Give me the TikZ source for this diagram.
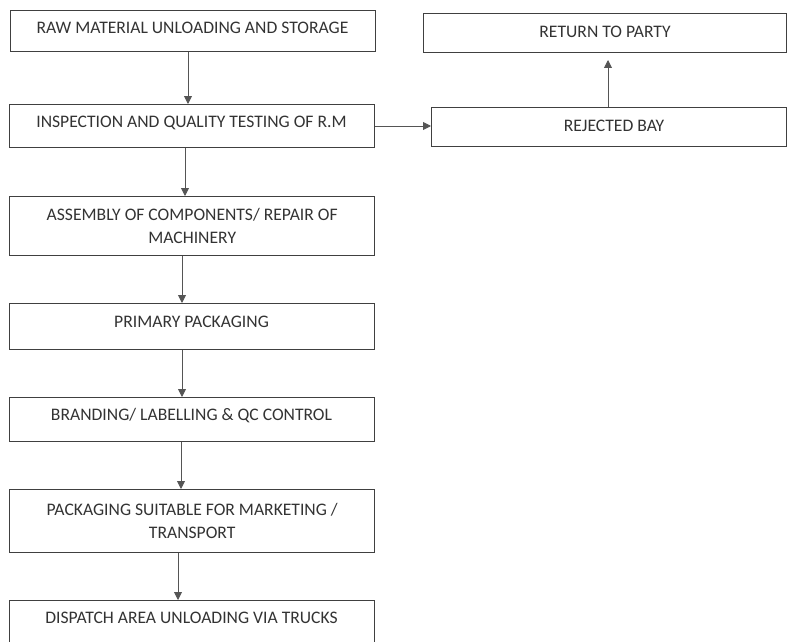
\documentclass[tikz,border=0pt]{standalone}
\usepackage{fontspec}
\setmainfont{Carlito}
\usetikzlibrary{arrows.meta}
\definecolor{ink}{HTML}{333333}
\definecolor{edge}{HTML}{404040}
\definecolor{arrc}{HTML}{555555}
\tikzset{
  box/.style={draw=edge, line width=1.4pt, rectangle, inner sep=0pt, anchor=north west},
  boxtext/.style={text=ink, font=\fontsize{17.6}{23}\selectfont, align=center, inner sep=0pt},
  onetext/.style={boxtext, text height=11.3pt, text depth=0pt},
  arr/.style={draw=arrc, line width=0.9pt, -{Triangle[width=8pt,length=8pt]}, color=arrc}
}
\begin{document}
\begin{tikzpicture}[x=1pt,y=-1pt]
\useasboundingbox (0,0) rectangle (787,642);
% left column boxes
\node[box, minimum width=365pt, minimum height=41pt] (b1) at (10,10) {};
\node[onetext] (t1) at (192.5,28) {RAW MATERIAL UNLOADING AND STORAGE};
\node[box, minimum width=365pt, minimum height=43pt] (b2) at (9,104) {};
\node[onetext] (t2) at (191.5,122) {INSPECTION AND QUALITY TESTING OF R.M};
\node[box, minimum width=365pt, minimum height=59pt] (b3) at (9,196) {};
\node[boxtext] (t3) at (b3.center) {ASSEMBLY OF COMPONENTS/ REPAIR OF\\MACHINERY};
\node[box, minimum width=365pt, minimum height=46pt] (b4) at (9,303) {};
\node[onetext] (t4) at (191.5,322) {PRIMARY PACKAGING};
\node[box, minimum width=365pt, minimum height=44pt] (b5) at (9,397) {};
\node[onetext] (t5) at (191.5,415) {BRANDING/ LABELLING \& QC CONTROL};
\node[box, minimum width=365pt, minimum height=63pt] (b6) at (9,489) {};
\node[boxtext] (t6) at (b6.center) {PACKAGING SUITABLE FOR MARKETING /\\TRANSPORT};
\node[box, minimum width=365pt, minimum height=48pt] (b7) at (9,600) {};
\node[onetext] (t7) at (191.5,618) {DISPATCH AREA UNLOADING VIA TRUCKS};
% right column boxes
\node[box, minimum width=363pt, minimum height=39pt] (r1) at (423,13) {};
\node[onetext] (rt1) at (605,32) {RETURN TO PARTY};
\node[box, minimum width=355pt, minimum height=39pt] (r2) at (431,107) {};
\node[onetext] (rt2) at (614,126) {REJECTED BAY};
% connectors
\draw[arr] (188,0 |- b1.south) -- (188,0 |- b2.north);
\draw[arr] (185,0 |- b2.south) -- (185,0 |- b3.north);
\draw[arr] (182,0 |- b3.south) -- (182,0 |- b4.north);
\draw[arr] (182,0 |- b4.south) -- (182,0 |- b5.north);
\draw[arr] (181,0 |- b5.south) -- (181,0 |- b6.north);
\draw[arr] (178,0 |- b6.south) -- (178,0 |- b7.north);
\draw[arr] (b2.east |- 0,126) -- (r2.west |- 0,126);
\coordinate (rtip) at (608,60);
\draw[arr] (608,0 |- r2.north) -- (rtip);
\end{tikzpicture}
\end{document}
